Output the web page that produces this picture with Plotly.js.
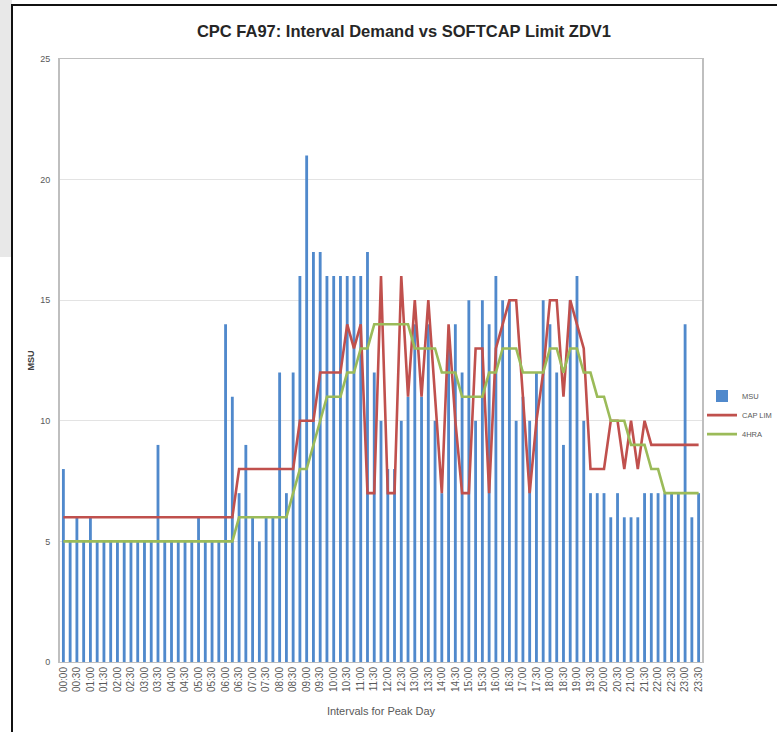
<!DOCTYPE html>
<html>
<head>
<meta charset="utf-8">
<script src="https://cdn.plot.ly/plotly-3.0.1.min.js"></script>
<style>
  html, body { margin: 0; padding: 0; background: #ffffff; width: 777px; height: 732px; overflow: hidden; }
  #greyPanel { position: absolute; left: 0; top: 0; width: 12px; height: 257px; background: #e8e8e8; }
  #vLine { position: absolute; left: 11px; top: 4px; width: 2px; height: 728px; background: #111; }
  #hLine { position: absolute; left: 11px; top: 4px; width: 766px; height: 2px; background: #111; }
  #chart { position: absolute; left: 0; top: 0; width: 800px; height: 732px; }
</style>
</head>
<body>
<div id="greyPanel"></div>
<div id="vLine"></div>
<div id="hLine"></div>
<div id="chart"></div>
<script>
// 15-minute intervals for the peak day
const intervals = [
  "00:00","00:15","00:30","00:45","01:00","01:15","01:30","01:45",
  "02:00","02:15","02:30","02:45","03:00","03:15","03:30","03:45",
  "04:00","04:15","04:30","04:45","05:00","05:15","05:30","05:45",
  "06:00","06:15","06:30","06:45","07:00","07:15","07:30","07:45",
  "08:00","08:15","08:30","08:45","09:00","09:15","09:30","09:45",
  "10:00","10:15","10:30","10:45","11:00","11:15","11:30","11:45",
  "12:00","12:15","12:30","12:45","13:00","13:15","13:30","13:45",
  "14:00","14:15","14:30","14:45","15:00","15:15","15:30","15:45",
  "16:00","16:15","16:30","16:45","17:00","17:15","17:30","17:45",
  "18:00","18:15","18:30","18:45","19:00","19:15","19:30","19:45",
  "20:00","20:15","20:30","20:45","21:00","21:15","21:30","21:45",
  "22:00","22:15","22:30","22:45","23:00","23:15","23:30"
];

// Shown tick labels (every 30 minutes)
const tickLabels = [
  "00:00","00:30","01:00","01:30","02:00","02:30","03:00","03:30",
  "04:00","04:30","05:00","05:30","06:00","06:30","07:00","07:30",
  "08:00","08:30","09:00","09:30","10:00","10:30","11:00","11:30",
  "12:00","12:30","13:00","13:30","14:00","14:30","15:00","15:30",
  "16:00","16:30","17:00","17:30","18:00","18:30","19:00","19:30",
  "20:00","20:30","21:00","21:30","22:00","22:30","23:00","23:30"
];

// MSU demand per interval
const msu = [
  8,5,6,5,6,5,5,5,5,5,5,5,5,5,9,5,5,5,5,5,6,5,5,5,
  14,11,7,9,6,5,6,6,12,7,12,16,21,17,17,16,16,16,16,16,16,17,12,10,8,8,
  10,11,14,11,14,10,7,13,14,12,15,10,15,14,16,15,15,10,11,10,12,15,14,
  12,9,15,16,10,7,7,7,6,7,6,6,6,7,7,7,7,7,7,14,6,7
];

// Softcap limit
const capLim = [
  6,6,6,6,6,6,6,6,6,6,6,6,6,6,6,6,6,6,6,6,6,6,6,6,6,6,
  8,8,8,8,8,8,8,8,8,
  10,10,10,
  12,12,12,12,
  14,13,14,7,7,16,7,7,16,11,15,11,15,11,7,14,10,7,7,13,13,7,13,14,15,15,11,7,10,12,15,15,11,15,14,13,
  8,8,8,10,10,8,10,8,10,
  9,9,9,9,9,9,9,9
];

// 4-hour rolling average
const fourHRA = [
  5,5,5,5,5,5,5,5,5,5,5,5,5,5,5,5,5,5,5,5,5,5,5,5,5,5,
  6,6,6,6,6,6,6,6,
  7,8,8,9,10,11,11,11,12,12,13,13,
  14,14,14,14,14,14,
  13,13,13,13,12,12,12,11,11,11,11,12,12,13,13,13,12,12,12,12,13,13,12,13,13,12,12,11,11,
  10,10,10,9,9,9,8,8,
  7,7,7,7,7,7
];

const FONT = "'Liberation Sans', Arial, sans-serif";

const traces = [
  {
    type: "bar", name: "MSU", x: intervals, y: msu,
    marker: { color: "#5089cc", line: { width: 0 } }
  },
  {
    type: "scatter", mode: "lines", name: "CAP LIM", x: intervals, y: capLim,
    line: { color: "#c0504d", width: 2.6 }
  },
  {
    type: "scatter", mode: "lines", name: "4HRA", x: intervals, y: fourHRA,
    line: { color: "#9bbb59", width: 2.6 }
  }
];

const layout = {
  width: 800, height: 732,
  paper_bgcolor: "rgba(0,0,0,0)",
  plot_bgcolor: "#ffffff",
  margin: { l: 60, r: 98, t: 59, b: 70 },
  bargap: 0.58,
  showlegend: true,
  title: {
    text: "<b>CPC FA97: Interval Demand vs SOFTCAP Limit ZDV1</b>",
    font: { family: FONT, size: 16.5, color: "#262626" },
    x: 404 / 800, xref: "container", xanchor: "center",
    y: 0.957, yref: "container", yanchor: "middle"
  },
  xaxis: {
    type: "category",
    categoryorder: "array", categoryarray: intervals,
    tickmode: "array", tickvals: tickLabels, ticktext: tickLabels,
    tickangle: -90,
    tickfont: { family: FONT, size: 10, color: "#595959" },
    ticks: "", showgrid: false,
    showline: true, linecolor: "#bfbfbf", linewidth: 1, mirror: true,
    title: { text: "Intervals for Peak Day", font: { family: FONT, size: 11, color: "#595959" }, standoff: 16 },
    automargin: false
  },
  yaxis: {
    range: [0, 25], dtick: 5, tick0: 0,
    tickfont: { family: FONT, size: 9, color: "#595959" },
    ticks: "", ticklabelstandoff: 6,
    showgrid: true, gridcolor: "#e3e3e3", gridwidth: 1,
    showline: true, linecolor: "#bfbfbf", linewidth: 2, mirror: true,
    zeroline: false,
    title: { text: "<b>MSU</b>", font: { family: FONT, size: 9, color: "#404040" }, standoff: 4 },
    automargin: false
  },
  legend: {
    x: 1.0, xanchor: "left", xref: "paper",
    y: 0.465, yanchor: "top", yref: "paper",
    font: { family: FONT, size: 7.5, color: "#595959" },
    bgcolor: "rgba(0,0,0,0)",
    itemwidth: 30, tracegroupgap: 0
  }
};

Plotly.newPlot("chart", traces, layout, { displayModeBar: false, staticPlot: true });
</script>
</body>
</html>
